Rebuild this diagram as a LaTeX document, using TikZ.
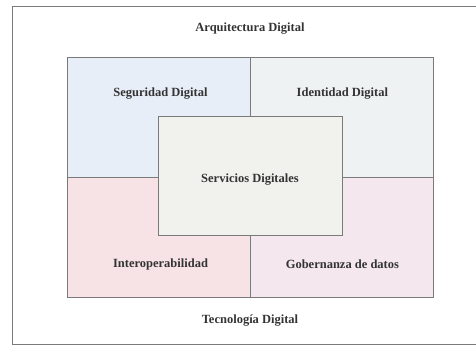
\documentclass[tikz,border=0pt]{standalone}
\usepackage{fontspec}
\setmainfont{Liberation Serif}
\usetikzlibrary{positioning}

\definecolor{segblue}{HTML}{E8EEF7}
\definecolor{idgrey}{HTML}{EFF2F2}
\definecolor{interpink}{HTML}{F7E3E5}
\definecolor{gobpink}{HTML}{F4E7ED}
\definecolor{servgrey}{HTML}{F1F1ED}
\definecolor{edgegrey}{HTML}{7A7A7A}

\begin{document}
\begin{tikzpicture}[x=1pt, y=-1pt,
    quad/.style={draw=edgegrey, line width=0.9pt, minimum width=183pt, minimum height=120pt, inner sep=0pt},
    lbl/.style={font=\fontsize{12.5}{14}\selectfont\bfseries, text=black!80},
    center/.style={draw=edgegrey, line width=0.9pt, fill=servgrey, minimum width=184pt, minimum height=119pt, inner sep=0pt}]
    \useasboundingbox (0,0) rectangle (476,346);
    \draw[edgegrey, line width=0.8pt] (476,6) -- (12,6) -- (12,344) -- (476,344);

    \node[lbl] (arq) at (250,29) {Arquitectura Digital};

    \node[quad, fill=segblue] (seg) at (158.5,117) {};
    \node[quad, fill=idgrey, right=0pt of seg] (ident) {};
    \node[quad, fill=interpink, below=0pt of seg] (inter) {};
    \node[quad, fill=gobpink, right=0pt of inter] (gob) {};

    \node[lbl] at ([xshift=2pt, yshift=-37pt]seg.north) {Seguridad Digital};
    \node[lbl] at ([xshift=0pt, yshift=-37pt]ident.north) {Identidad Digital};
    \node[lbl] at ([xshift=2pt, yshift=34pt]inter.south) {Interoperabilidad};
    \node[lbl] at ([xshift=0pt, yshift=34pt]gob.south) {Gobernanza de datos};

    \node[center] (serv) at (250,175.5) {};
    \node[lbl] at ([yshift=-4pt]serv.center) {Servicios Digitales};

    \node[lbl] (tec) at (250,321) {Tecnología Digital};
  \end{tikzpicture}
\end{document}
